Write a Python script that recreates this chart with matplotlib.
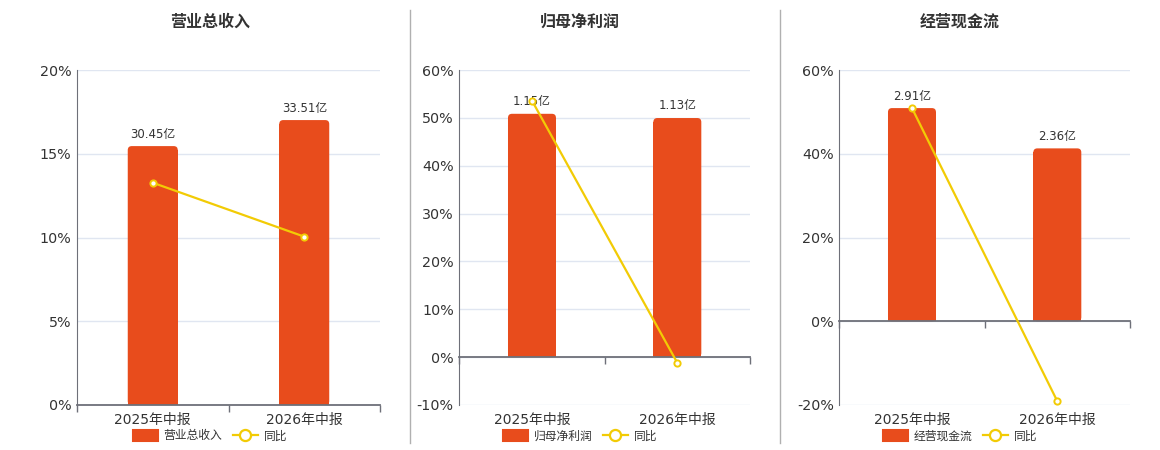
import numpy as np
import matplotlib
matplotlib.use("Agg")
import matplotlib.pyplot as plt
from matplotlib.patches import Patch, FancyBboxPatch
from matplotlib.lines import Line2D

plt.rcParams['font.family'] = ['DejaVu Sans', 'Noto Sans CJK SC']

# data
categories = ['2025年中报', '2026年中报']
titles = ['营业总收入', '归母净利润', '经营现金流']
revenue = [30.45, 33.51]      # 亿
profit = [1.15, 1.13]
cashflow = [2.91, 2.36]
revenue_yoy = [13.27, 10.05]  # %
profit_yoy = [53.6, -1.2]
cashflow_yoy = [50.9, -19.1]

amounts = [revenue, profit, cashflow]
yoys = [revenue_yoy, profit_yoy, cashflow_yoy]

# percent axis ranges (lo, hi, step) and top of the hidden bar axis
pct_ranges = [(0, 20, 5), (-10, 60, 10), (-20, 60, 20)]
bar_tops = [39.4, 1.357, 3.43]

W, H = 1160, 450
bar_color = '#e84c1c'
line_color = '#f2cb05'
axis_color = '#6e7079'
grid_color = '#e0e6f1'
text_color = '#333333'

# axes left/right in pixels, centre of title/legend
ax_lr = [(77, 380), (459.3, 750), (839.3, 1130)]
ax_h = 335
centers = [210, 580, 960]
corner_px = 4

fig = plt.figure(figsize=(W / 100, H / 100), dpi=100)

x = np.arange(len(categories))
for i in range(3):
    l, r = ax_lr[i]
    ax = fig.add_axes([l / W, 1 - 405 / H, (r - l) / W, ax_h / H])
    axb = ax.twinx()
    ax.set_zorder(axb.get_zorder() + 1)
    ax.patch.set_visible(False)

    lo, hi, step = pct_ranges[i]
    ticks = np.arange(lo, hi + step / 2, step)
    ax.set_xlim(-0.5, 1.5)
    ax.set_ylim(lo, hi)
    ax.set_yticks(ticks)
    ax.set_yticklabels(['%g%%' % t for t in ticks])

    # hidden bar axis, zero aligned with 0%
    k = bar_tops[i] / hi
    axb.set_ylim(lo * k, hi * k)
    axb.set_yticks(ticks * k)
    axb.grid(axis='y', color=grid_color, lw=1)
    axb.set_axisbelow(True)
    axb.tick_params(axis='y', length=0, labelright=False)
    bars = axb.bar(x, amounts[i], width=0.33, color=bar_color, zorder=2)
    axb.bar_label(bars, labels=['%.2f亿' % v for v in amounts[i]],
                  padding=4, fontsize=8.5, color=text_color)

    # round the top corners
    xpp = 2.0 / (r - l)                      # x units per pixel
    ypp = (hi - lo) * k / ax_h               # y units per pixel
    rx = corner_px * xpp
    ry = corner_px * ypp
    for b in bars:
        bx, by, bw, bh = b.get_x(), b.get_y(), b.get_width(), b.get_height()
        b.set_height(bh - ry)
        axb.add_patch(FancyBboxPatch((bx, by), bw, bh,
                                     boxstyle='round,pad=0,rounding_size=%f' % rx,
                                     mutation_aspect=ry / rx,
                                     facecolor=bar_color, edgecolor='none', zorder=2))

    ax.plot(x, yoys[i], color=line_color, lw=1.6, marker='o', ms=4.5,
            mfc='white', mec=line_color, mew=1.4, zorder=3)

    for a in (ax, axb):
        for s in ('top', 'right', 'bottom'):
            a.spines[s].set_visible(False)
    axb.spines['left'].set_visible(False)
    ax.spines['left'].set_color(axis_color)

    ax.set_xticks(x)
    ax.set_xticklabels(categories)
    ax.tick_params(axis='x', length=0, pad=6, labelsize=10, labelcolor=text_color)
    ax.tick_params(axis='y', length=0, pad=4, labelsize=10.3, labelcolor=text_color)

    # category axis line at 0 with boundary ticks
    zero_frac = -lo / (hi - lo)
    sec = ax.secondary_xaxis(zero_frac)
    sec.set_xticks([-0.5, 0.5, 1.5])
    sec.set_xticklabels([])
    sec.tick_params(length=5, color=axis_color, width=1)
    for s in ('top', 'bottom'):
        sec.spines[s].set_color(axis_color)
        sec.spines[s].set_linewidth(1.3)

    fig.text(centers[i] / W, 1 - 22 / H, titles[i], ha='center', va='center',
             fontsize=11.5, fontweight='bold', color=text_color)

    handles = [Patch(facecolor=bar_color, edgecolor=bar_color, lw=1.5, joinstyle='round'),
               Line2D([], [], color=line_color, lw=1.6, marker='o', ms=8,
                      mfc='white', mec=line_color, mew=1.6)]
    fig.legend(handles, [titles[i], '同比'], loc='center',
               bbox_to_anchor=(centers[i] / W, 1 - 436 / H), ncol=2,
               frameon=False, fontsize=8.5, handlelength=2.1, handleheight=1.0,
               handletextpad=0.5, columnspacing=0.9, labelcolor=text_color,
               borderaxespad=0, borderpad=0)

# panel dividers
for xd in (410, 780):
    fig.add_artist(Line2D([xd / W, xd / W], [1 - 10 / H, 1 - 443 / H],
                          color='#b0b0b0', lw=1))

fig.savefig('out.png', dpi=100)
